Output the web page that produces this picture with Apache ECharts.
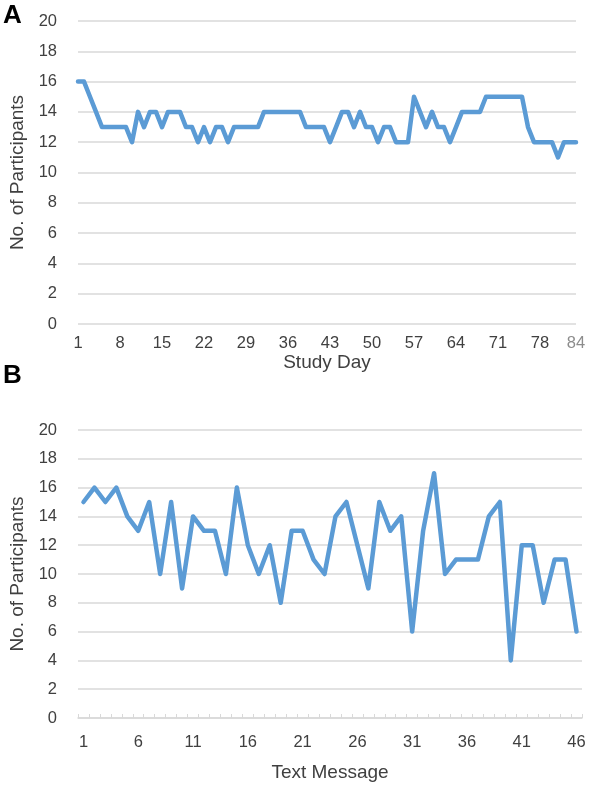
<!DOCTYPE html>
<html>
<head>
<meta charset="utf-8">
<script src="https://cdn.jsdelivr.net/npm/echarts@6/dist/echarts.min.js"></script>
<style>html,body{margin:0;padding:0;background:#fff}#c{width:596px;height:789px}</style>
</head>
<body>
<div id="c"></div>
<script>
const studyDays = Array.from({length: 84}, (_, i) => String(i + 1));
const participantsByDay = [16,16,15,14,13,13,13,13,13,12,14,13,14,14,13,14,14,14,13,13,12,13,12,13,13,12,13,13,13,13,13,14,14,14,14,14,14,14,13,13,13,13,12,13,14,14,13,14,13,13,12,13,13,12,12,12,15,14,13,14,13,13,12,13,14,14,14,14,15,15,15,15,15,15,15,13,12,12,12,12,11,12,12,12];
const textMessages = Array.from({length: 46}, (_, i) => String(i + 1));
const participantsByMessage = [15,16,15,16,14,13,15,10,15,9,14,13,13,10,16,12,10,12,8,13,13,11,10,14,15,12,9,15,13,14,6,13,17,10,11,11,11,14,15,4,12,12,8,11,11,6];
const yTicks = [0,2,4,6,8,10,12,14,16,18,20];

const chart = echarts.init(document.getElementById('c'));
const FONT = 'Liberation Sans, Arial, sans-serif';
const lineColor = '#5b9bd5';
const gridColor = '#d9d9d9';
const labelColor = '#404040';

function yAxis(gridIndex) {
  return {
    type: 'value', gridIndex, min: yTicks[0], max: yTicks[yTicks.length - 1], interval: 2,
    name: 'No. of Participants', nameLocation: 'middle', nameGap: 50,
    nameTextStyle: {fontFamily: FONT, fontSize: 19, color: labelColor},
    axisLine: {show: false}, axisTick: {show: false},
    axisLabel: {fontFamily: FONT, fontSize: 16.5, color: labelColor, margin: 21},
    splitLine: {lineStyle: {color: gridColor, width: 1.5}}
  };
}

chart.setOption({
  animation: false,
  title: [
    {text: 'A', left: -2, top: -2, textStyle: {fontFamily: FONT, fontSize: 26, fontWeight: 'bold', color: '#000'}},
    {text: 'B', left: -2, top: 358, textStyle: {fontFamily: FONT, fontSize: 26, fontWeight: 'bold', color: '#000'}}
  ],
  grid: [
    {left: 78, right: 20, top: 21, height: 303},
    {left: 78, right: 14, top: 430, height: 288}
  ],
  xAxis: [
    {
      type: 'category', gridIndex: 0, data: studyDays, boundaryGap: false,
      name: 'Study Day', nameLocation: 'middle', nameGap: 15,
      nameTextStyle: {fontFamily: FONT, fontSize: 19, color: labelColor},
      axisLine: {show: false}, axisTick: {show: false},
      axisLabel: {
        fontFamily: FONT, fontSize: 16.5, margin: 11,
        interval: (i) => i % 7 === 0 || i === 83,
        formatter: (v, i) => i === 83 ? '{g|' + v + '}' : v,
        color: labelColor,
        rich: {g: {color: '#8c8c8c', fontFamily: FONT, fontSize: 16.5}}
      }
    },
    {
      type: 'category', gridIndex: 1, data: textMessages, boundaryGap: true,
      name: 'Text Message', nameLocation: 'middle', nameGap: 45,
      nameTextStyle: {fontFamily: FONT, fontSize: 19, color: labelColor},
      axisLine: {show: true, lineStyle: {color: gridColor, width: 1.5}},
      axisTick: {show: true, inside: true, length: 4, interval: 0, lineStyle: {color: gridColor}},
      axisLabel: {fontFamily: FONT, fontSize: 16.5, color: labelColor, margin: 16, interval: 4}
    }
  ],
  yAxis: [yAxis(0), yAxis(1)],
  series: [
    {type: 'line', xAxisIndex: 0, yAxisIndex: 0, data: participantsByDay, showSymbol: false,
     lineStyle: {color: lineColor, width: 4.5, join: 'round', cap: 'round'}},
    {type: 'line', xAxisIndex: 1, yAxisIndex: 1, data: participantsByMessage, showSymbol: false,
     lineStyle: {color: lineColor, width: 4.5, join: 'round', cap: 'round'}}
  ]
});
</script>
</body>
</html>
